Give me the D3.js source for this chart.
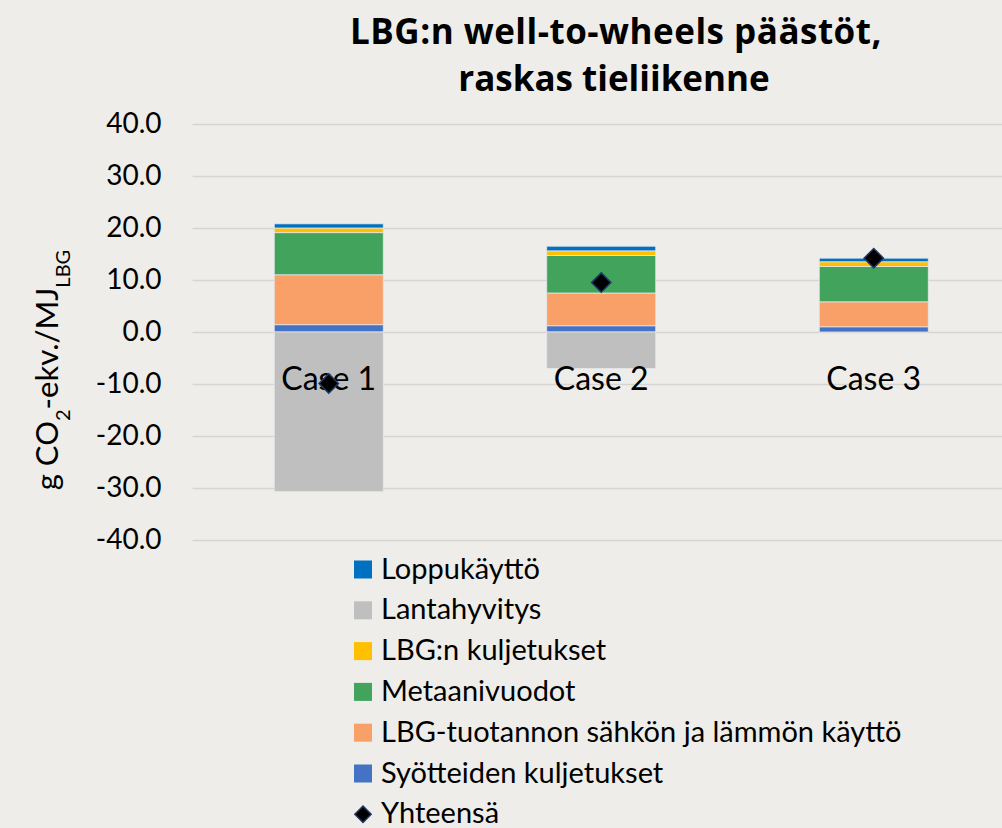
<!DOCTYPE html>
<html>
<head>
<meta charset="utf-8">
<script src="https://cdn.jsdelivr.net/npm/d3@7"></script>
<style>
    body { margin: 0; background: #EEEDE9; }
    text { font-family: Lato, "Open Sans", sans-serif; fill: #000; }
</style>
</head>
<body>
<div id="chart"></div>
<script>
var cases = ["Case 1", "Case 2", "Case 3"]
var syotteiden_kuljetukset = [1.4, 1.2, 1.0]
var tuotannon_sahko_lampo = [9.6, 6.3, 4.8]
var metaanivuodot = [8.1, 7.2, 6.8]
var lbg_kuljetukset = [0.9, 0.9, 0.9]
var lantahyvitys = [-30.7, -7.0, 0]
var loppukaytto = [0.8, 0.9, 0.7]
var yhteensa = [-9.9, 9.5, 14.2]
var y_ticks = [-40, -30, -20, -10, 0, 10, 20, 30, 40]

var series_names = ["Syötteiden kuljetukset", "LBG-tuotannon sähkön ja lämmön käyttö", "Metaanivuodot",
    "LBG:n kuljetukset", "Lantahyvitys", "Loppukäyttö"]
var series_values = [syotteiden_kuljetukset, tuotannon_sahko_lampo, metaanivuodot,
    lbg_kuljetukset, lantahyvitys, loppukaytto]
var colors = ["#4472C4", "#F8A068", "#41A35C", "#FFC000", "#BFBFBF", "#0070C0"]

var width = 1002, height = 828
var svg = d3.select("#chart").append("svg")
    .attr("width", width)
    .attr("height", height)

var rows = cases.map(function(c, i){
    var r = {case: c}
    series_names.forEach(function(s, j){ r[s] = series_values[j][i] })
    return r
})
var stacked = d3.stack().keys(series_names).offset(d3.stackOffsetDiverging)(rows)

var x = d3.scaleBand().domain(cases).range([192.5, 1010]).paddingInner(0.6).paddingOuter(0.3)
var y = d3.scaleLinear().domain([-40, 40]).range([540, 124])

// grid + tick labels
var y_axis = svg.append("g")
    .attr("transform", "translate(192.5,0)")
    .call(d3.axisLeft(y)
        .tickValues(y_ticks)
        .tickFormat(function(d){ return d.toFixed(1) })
        .tickSize(-(1010-192.5))
        .tickPadding(31))
y_axis.select(".domain").remove()
y_axis.selectAll(".tick line")
    .attr("stroke", "#D6D5D1")
    .attr("stroke-width", 1.5)
y_axis.selectAll(".tick text")
    .style("font-size", "28px")
    .attr("fill", "#000")

// bars
svg.append("g").selectAll("g")
    .data(stacked).enter()
    .append("g")
    .attr("fill", function(d, i){ return colors[i] })
    .selectAll("rect")
    .data(function(d){ return d }).enter()
    .append("rect")
    .attr("x", function(d){ return x(d.data.case) })
    .attr("width", x.bandwidth())
    .attr("y", function(d){ return y(Math.max(d[0], d[1])) })
    .attr("height", function(d){ return Math.abs(y(d[0]) - y(d[1])) })
    .attr("stroke", "#E4E6EA")
    .attr("stroke-width", 0.8)

// category labels
svg.append("g").selectAll("text")
    .data(cases).enter()
    .append("text")
    .text(function(d){ return d })
    .attr("x", function(d){ return x(d) + x.bandwidth()/2 })
    .attr("y", 390)
    .attr("text-anchor", "middle")
    .style("font-size", "32px")

// totals
var diamond = d3.symbol().type(d3.symbolDiamond2).size(240)
svg.append("g").selectAll("path")
    .data(yhteensa).enter()
    .append("path")
    .attr("d", diamond)
    .attr("transform", function(d, i){ return "translate(" + (x(cases[i]) + x.bandwidth()/2) + "," + y(d) + ")" })
    .attr("fill", "#000")
    .attr("stroke", "#203864")
    .attr("stroke-width", 1.5)

// title
svg.append("text")
    .text("LBG:n well-to-wheels päästöt,")
    .attr("x", 616).attr("y", 44)
    .attr("text-anchor", "middle")
    .style("font-family", "'Open Sans', sans-serif")
    .style("font-size", "35px").style("font-weight", "bold")
    .style("letter-spacing", "0.5px")
svg.append("text")
    .text("raskas tieliikenne")
    .attr("x", 614).attr("y", 91)
    .attr("text-anchor", "middle")
    .style("font-family", "'Open Sans', sans-serif")
    .style("font-size", "35px").style("font-weight", "bold")

// y label
var y_label = svg.append("text")
    .attr("transform", "translate(58,370) rotate(-90)")
    .attr("text-anchor", "middle")
    .style("font-size", "31px")
y_label.append("tspan").text("g CO")
y_label.append("tspan").text("2").attr("baseline-shift", "sub").style("font-size", "20px")
y_label.append("tspan").text("-ekv./MJ")
y_label.append("tspan").text("LBG").attr("baseline-shift", "sub").style("font-size", "20px")

// legend
var legend_items = series_names.map(function(s, i){ return {name: s, color: colors[i]} }).reverse()
var legend = svg.append("g").attr("transform", "translate(354,569.5)")
var row_h = 40.8
legend.selectAll("rect")
    .data(legend_items).enter()
    .append("rect")
    .attr("x", 0)
    .attr("y", function(d, i){ return i*row_h - 9 })
    .attr("width", 18)
    .attr("height", 18)
    .attr("fill", function(d){ return d.color })
legend.append("path")
    .attr("d", d3.symbol().type(d3.symbolDiamond2).size(170))
    .attr("transform", "translate(9," + (6*row_h) + ")")
    .attr("fill", "#000")
    .attr("stroke", "#203864")
    .attr("stroke-width", 1.5)
legend.selectAll("text")
    .data(legend_items.map(function(d){ return d.name }).concat(["Yhteensä"])).enter()
    .append("text")
    .text(function(d){ return d })
    .attr("x", 27)
    .attr("y", function(d, i){ return i*row_h + 9 })
    .style("font-size", "29px")
</script>
</body>
</html>
